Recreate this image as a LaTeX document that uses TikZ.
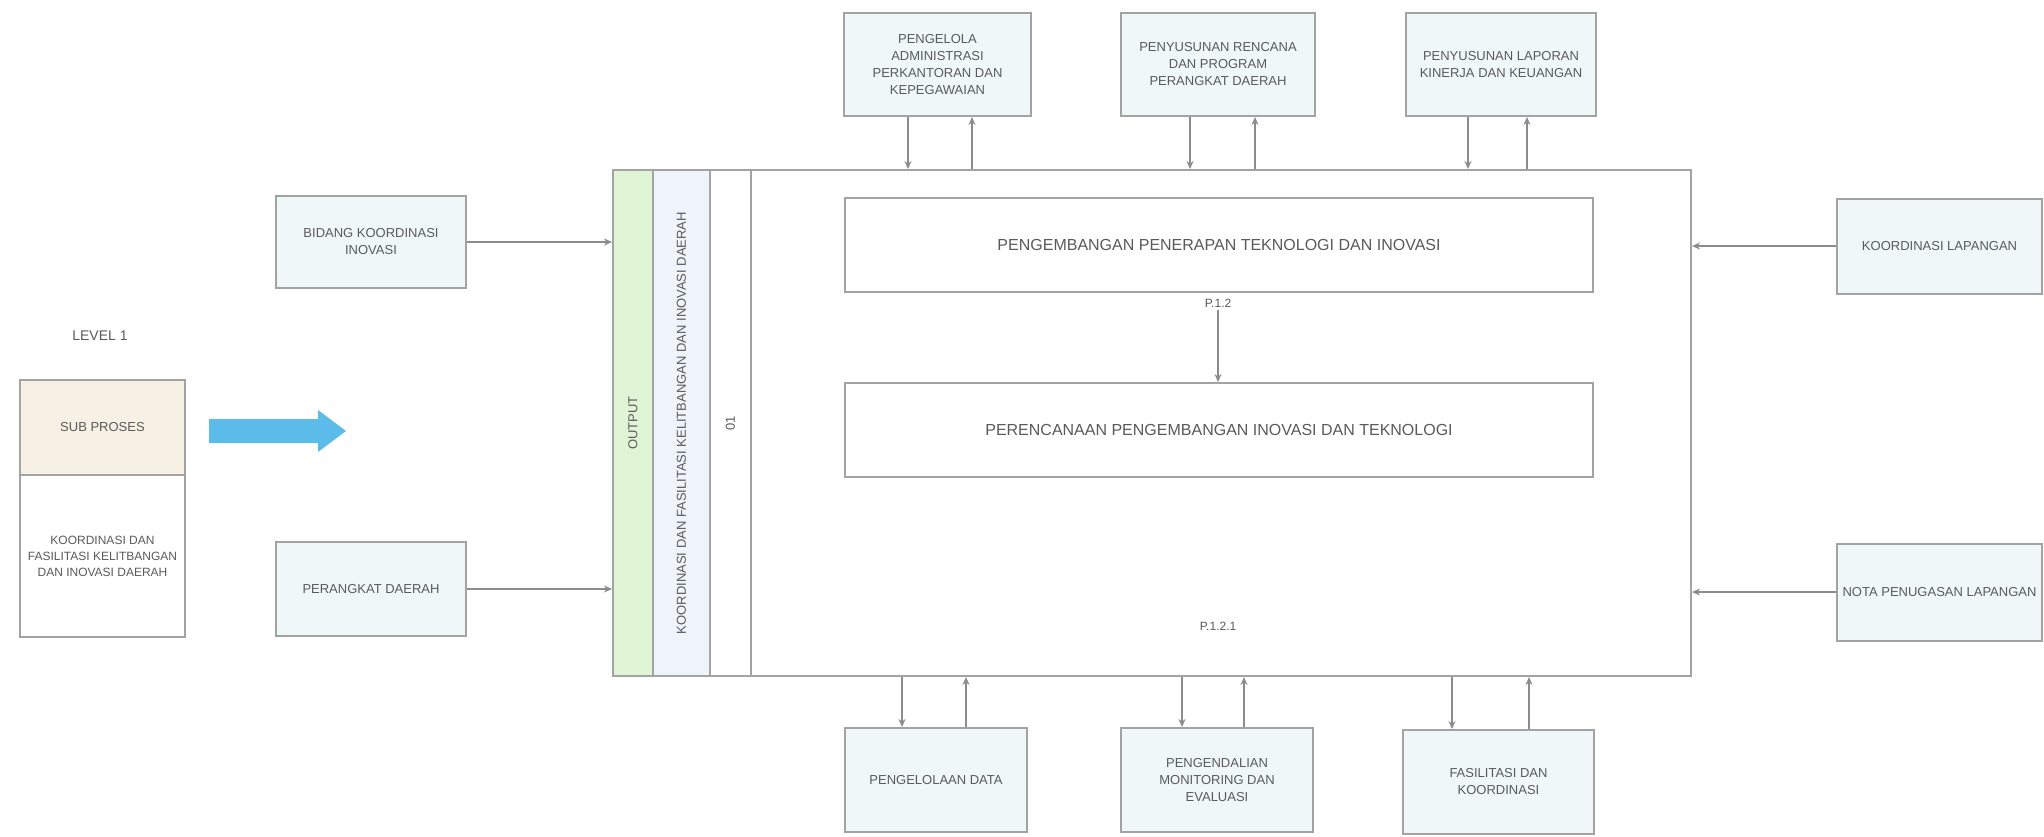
\documentclass[tikz,border=0pt]{standalone}
\usepackage{fontspec}
\setmainfont{Liberation Sans}
\usetikzlibrary{arrows.meta}
\definecolor{txt}{HTML}{5A5A5A}
\definecolor{bord}{HTML}{A3A3A3}
\definecolor{boxfill}{HTML}{EFF7F9}
\definecolor{greenfill}{HTML}{DFF5D6}
\definecolor{beige}{HTML}{F6F1E4}
\definecolor{stripfill}{HTML}{EEF4FA}
\definecolor{linec}{HTML}{8C8C8C}
\definecolor{bluearrow}{HTML}{5BBBE9}
\tikzset{
 x=0.5pt, y=-0.5pt,
 outbox/.style={draw=bord, line width=1pt, fill=boxfill, text=txt, align=center, font=\fontsize{6.5}{8.5}\selectfont, inner sep=0pt},
 innerbox/.style={draw=bord, line width=1pt, fill=white, text=txt, font=\fontsize{8}{9.5}\selectfont, inner sep=0pt, minimum width=374pt, minimum height=47pt},
 strip/.style={draw=bord, line width=1pt, inner sep=0pt, minimum height=253pt},
 conn/.style={draw=linec, line width=0.7pt, -{Stealth[length=4pt,width=3.5pt]}},
 lbl/.style={text=txt, font=\fontsize{6}{7}\selectfont, inner sep=1pt},
 vtext/.style={text=txt, rotate=90, font=\fontsize{6.5}{8}\selectfont, inner sep=0pt},
 topbox/.style={outbox, minimum height=51.5pt},
 botbox/.style={outbox, minimum height=52pt},
 sidebox/.style={outbox, minimum width=95pt},
 rbox/.style={outbox, minimum width=102.5pt},
}
\begin{document}
\begin{tikzpicture}
\useasboundingbox[fill=white] (0,0) rectangle (2044,836);

% main process block
\node[strip, minimum width=539pt] (main) at (1152,423) {};
\node[strip, fill=greenfill, minimum width=20pt] (s1) at (633,423) {};
\node[strip, fill=stripfill, minimum width=28.5pt] (s2) at (681.5,423) {};
\node[strip, fill=white, minimum width=20.5pt] (s3) at (730.5,423) {};
\node[vtext] (s1t) at (s1) {OUTPUT};
\node[vtext] (s2t) at (s2) {KOORDINASI DAN FASILITASI KELITBANGAN DAN INOVASI DAERAH};
\node[vtext] (s3t) at (s3) {01};

\node[innerbox] (box1) at (1219,245) {PENGEMBANGAN PENERAPAN TEKNOLOGI DAN INOVASI};
\node[innerbox] (box2) at (1219,430) {PERENCANAAN PENGEMBANGAN INOVASI DAN TEKNOLOGI};
\node[lbl] (p12) at (1218,303) {P.1.2};
\node[lbl] (p121) at (1218,626) {P.1.2.1};
\draw[conn] (p12.south) -- (p12.south |- box2.north);

% left sub process
\node[text=txt, font=\fontsize{7}{8}\selectfont] (lvl) at (100,336) {LEVEL 1};
\node[draw=bord, line width=1pt, fill=beige, text=txt, font=\fontsize{6.5}{8}\selectfont, minimum width=82.5pt, minimum height=47.5pt, inner sep=0pt] (sp) at (102.5,427.5) {SUB PROSES};
\node[draw=bord, line width=1pt, fill=white, text=txt, align=center, font=\fontsize{6}{8}\selectfont, minimum width=82.5pt, minimum height=81pt, inner sep=0pt] (spd) at (102.5,556) {KOORDINASI DAN\\FASILITASI KELITBANGAN\\DAN INOVASI DAERAH};
\fill[bluearrow] (209,419) -- (318,419) -- (318,410) -- (346,431) -- (318,452) -- (318,443) -- (209,443) -- cycle;

% top boxes
\node[topbox, minimum width=93.5pt] (T1) at (937.5,64.5) {PENGELOLA\\ADMINISTRASI\\PERKANTORAN DAN\\KEPEGAWAIAN};
\node[topbox, minimum width=97pt] (T2) at (1218,64.5) {PENYUSUNAN RENCANA\\DAN PROGRAM\\PERANGKAT DAERAH};
\node[topbox, minimum width=95pt] (T3) at (1501,64.5) {PENYUSUNAN LAPORAN\\KINERJA DAN KEUANGAN};

% bottom boxes
\node[botbox, minimum width=91pt] (B1) at (936,780) {PENGELOLAAN DATA};
\node[botbox, minimum width=96pt] (B2) at (1217,780) {PENGENDALIAN\\MONITORING DAN\\EVALUASI};
\node[botbox, minimum width=95.5pt] (B3) at (1498.5,782) {FASILITASI DAN\\KOORDINASI};

% side boxes
\node[sidebox, minimum height=46pt] (L1) at (371,242) {BIDANG KOORDINASI\\INOVASI};
\node[sidebox, minimum height=47pt] (L2) at (371,589) {PERANGKAT DAERAH};
\node[rbox, minimum height=47.5pt] (R1) at (1939.5,246) {KOORDINASI LAPANGAN};
\node[rbox, minimum height=48.5pt] (R2) at (1939.5,592) {NOTA PENUGASAN LAPANGAN};

% x positions of vertical connectors
\coordinate (xt1a) at (908,0);  \coordinate (xt1b) at (972,0);
\coordinate (xt2a) at (1190,0); \coordinate (xt2b) at (1255,0);
\coordinate (xt3a) at (1468,0); \coordinate (xt3b) at (1527,0);
\coordinate (xb1a) at (902,0);  \coordinate (xb1b) at (966,0);
\coordinate (xb2a) at (1182,0); \coordinate (xb2b) at (1244,0);
\coordinate (xb3a) at (1452,0); \coordinate (xb3b) at (1529,0);

% top connectors
\draw[conn] (T1.south -| xt1a) -- (main.north -| xt1a);
\draw[conn] (main.north -| xt1b) -- (T1.south -| xt1b);
\draw[conn] (T2.south -| xt2a) -- (main.north -| xt2a);
\draw[conn] (main.north -| xt2b) -- (T2.south -| xt2b);
\draw[conn] (T3.south -| xt3a) -- (main.north -| xt3a);
\draw[conn] (main.north -| xt3b) -- (T3.south -| xt3b);

% bottom connectors
\draw[conn] (main.south -| xb1a) -- (B1.north -| xb1a);
\draw[conn] (B1.north -| xb1b) -- (main.south -| xb1b);
\draw[conn] (main.south -| xb2a) -- (B2.north -| xb2a);
\draw[conn] (B2.north -| xb2b) -- (main.south -| xb2b);
\draw[conn] (main.south -| xb3a) -- (B3.north -| xb3a);
\draw[conn] (B3.north -| xb3b) -- (main.south -| xb3b);

% side connectors
\draw[conn] (L1.east) -- (L1.east -| main.west);
\draw[conn] (L2.east) -- (L2.east -| main.west);
\draw[conn] (R1.west) -- (R1.west -| main.east);
\draw[conn] (R2.west) -- (R2.west -| main.east);
\end{tikzpicture}
\end{document}
